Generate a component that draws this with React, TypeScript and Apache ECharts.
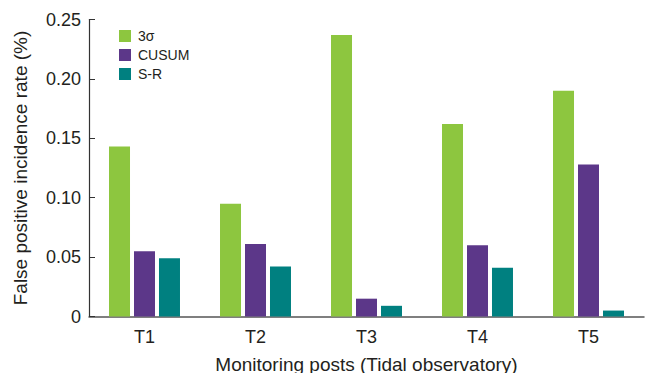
import React, { useEffect, useRef } from "react";
import * as echarts from "echarts";

const categories = ["T1", "T2", "T3", "T4", "T5"];
const sigma3 = [0.143, 0.095, 0.237, 0.162, 0.19];
const cusum = [0.055, 0.061, 0.015, 0.06, 0.128];
const sr = [0.049, 0.042, 0.009, 0.041, 0.005];
const seriesNames = ["3σ", "CUSUM", "S-R"];
const colors = ["#8DC63F", "#5C3789", "#008080"];

const FONT = "'Liberation Sans', Arial, Helvetica, sans-serif";
const TEXT = "#231F20";

export default function App() {
  const ref = useRef<HTMLDivElement>(null);
  useEffect(() => {
    if (!ref.current) return;
    const chart = echarts.init(ref.current, undefined, { renderer: "svg" });
    const data = [sigma3, cusum, sr];
    chart.setOption({
      animation: false,
      textStyle: { fontFamily: FONT, color: TEXT },
      grid: {
        left: 89,
        right: 1,
        top: 19.5,
        bottom: 56.5,
        containLabel: false,
        outerBoundsMode: "none",
      },
      legend: {
        orient: "vertical",
        left: 114,
        top: 24,
        itemWidth: 12,
        itemHeight: 12,
        itemGap: 5,
        icon: "rect",
        data: seriesNames,
        textStyle: { fontSize: 14, lineHeight: 12, color: TEXT, fontFamily: FONT, padding: [0, 0, 0, 2] },
      },
      xAxis: {
        type: "category",
        data: categories,
        name: "Monitoring posts (Tidal observatory)",
        nameLocation: "middle",
        nameGap: 38,
        nameTextStyle: { fontSize: 19, color: TEXT, fontFamily: FONT },
        axisLine: { lineStyle: { color: "#555", width: 1.5 } },
        axisTick: { show: false },
        axisLabel: { fontSize: 18, color: TEXT, margin: 11, fontFamily: FONT },
      },
      yAxis: {
        type: "value",
        min: 0,
        max: 0.25,
        interval: 0.05,
        name: "False positive incidence rate (%)",
        nameLocation: "middle",
        nameGap: 59,
        nameTextStyle: { fontSize: 19, color: TEXT, fontFamily: FONT },
        axisLine: { show: true, lineStyle: { color: "#333", width: 1.2 } },
        axisTick: { show: true, inside: true, length: 6, lineStyle: { color: "#333" } },
        splitLine: { show: false },
        axisLabel: {
          fontSize: 18,
          color: TEXT,
          margin: 8,
          fontFamily: FONT,
          formatter: (v: number) => (v === 0 ? "0" : v.toFixed(2)),
        },
      },
      series: seriesNames.map((name, i) => ({
        name,
        type: "bar",
        data: data[i],
        barWidth: 21,
        barGap: "19%",
        itemStyle: { color: colors[i] },
      })),
    });
    return () => chart.dispose();
  }, []);
  return (
    <div
      ref={ref}
      style={{ position: "fixed", left: 0, top: 0, width: 645, height: 373, background: "#fff" }}
    />
  );
}
